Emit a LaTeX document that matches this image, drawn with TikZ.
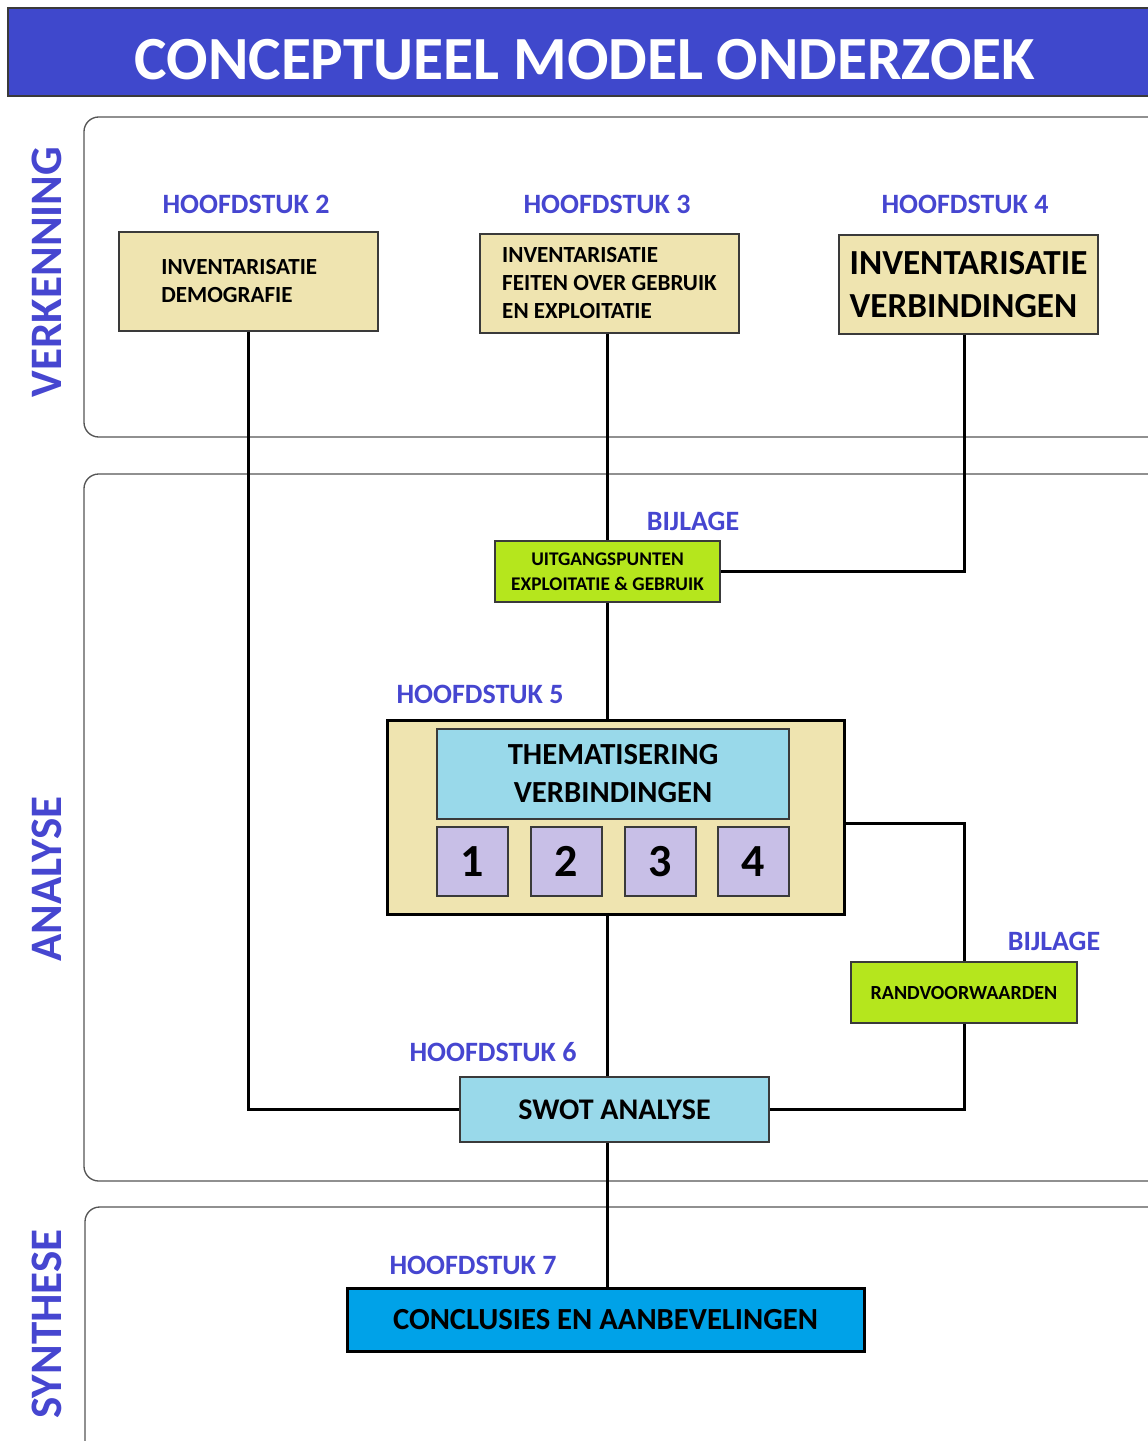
\documentclass[tikz,border=0pt]{standalone}
\usepackage{fontspec}
\setmainfont{Carlito}
\usetikzlibrary{calc}
\definecolor{titlebg}{HTML}{3F48CC}
\definecolor{hblue}{HTML}{4646D0}
\definecolor{tanc}{HTML}{EFE4B0}
\definecolor{limec}{HTML}{B5E61D}
\definecolor{lbluec}{HTML}{99D9EA}
\definecolor{lavc}{HTML}{C8BFE7}
\definecolor{cyanc}{HTML}{00A2E8}
\definecolor{secgray}{HTML}{555555}
\definecolor{boxborder}{HTML}{3A3A3A}
\def\u{0.75pt}
\tikzset{
  section/.style={draw=secgray, line width=1pt, rounded corners=11pt},
  thinbox/.style={draw=boxborder, line width=0.8pt, inner sep=0pt, align=center, text=black},
  thickbox/.style={draw=black, line width=2.25pt, inner sep=0pt, align=center, text=black},
  conn/.style={draw=black, line width=2.25pt},
  hlabel/.style={text=hblue, font=\fontsize{21}{25}\selectfont\bfseries, anchor=base, inner sep=0pt},
  sidelabel/.style={text=hblue, font=\fontsize{33.75}{40}\selectfont\bfseries, rotate=90, inner sep=0pt},
  numbox/.style={thinbox, fill=lavc, minimum width=71*\u, minimum height=69*\u, font=\fontsize{34.5}{40}\selectfont\bfseries}
}
\begin{document}
\begin{tikzpicture}[x=0.75pt,y=-0.75pt]
\useasboundingbox (0,0) rectangle (1148,1441);
\clip (0,0) rectangle (1148,1441);

% title bar
\path[draw=boxborder, line width=0.8pt, fill=titlebg] (8,8) rectangle (1170,96);
\node[text=white, font=\fontsize{46}{50}\selectfont\bfseries, anchor=base, inner sep=0pt] (title) at (585,80) {CONCEPTUEEL MODEL ONDERZOEK};

% sections
\draw[section] (84,117) rectangle (1175,437);
\draw[section] (84,474) rectangle (1175,1181);
\draw[section] (85,1207) rectangle (1175,1470);

% side labels
\node[sidelabel] (verk) at (47,272) {VERKENNING};
\node[sidelabel] (anal) at (47,879) {ANALYSE};
\node[sidelabel] (synth) at (47,1324) {SYNTHESE};

% chapter labels
\node[hlabel] (h2) at (246,213) {HOOFDSTUK 2};
\node[hlabel] (h3) at (607,213) {HOOFDSTUK 3};
\node[hlabel] (h4) at (965,214) {HOOFDSTUK 4};
\node[hlabel] (bij1) at (693,530) {BIJLAGE};
\node[hlabel] (h5l) at (480,703) {HOOFDSTUK 5};
\node[hlabel] (bij2) at (1054,950) {BIJLAGE};
\node[hlabel] (h6l) at (493,1061) {HOOFDSTUK 6};
\node[hlabel] (h7l) at (473,1274) {HOOFDSTUK 7};

% boxes
\node[thinbox, fill=tanc, minimum width=259*\u, minimum height=99*\u, align=left,
      font=\fontsize{17.3}{21}\selectfont\bfseries] (b2) at (248.5,281.5)
      {INVENTARISATIE\\DEMOGRAFIE\phantom{IIIIIII}};
\node[thinbox, fill=tanc, minimum width=259*\u, minimum height=99*\u, align=left,
      font=\fontsize{17.3}{21}\selectfont\bfseries] (b3) at (609.5,283.5)
      {INVENTARISATIE\\FEITEN OVER GEBRUIK\\EN EXPLOITATIE};
\node[thinbox, fill=tanc, minimum width=259*\u, minimum height=99*\u, align=left,
      font=\fontsize{26.4}{32.25}\selectfont\bfseries] (b4) at (968.5,284.5)
      {INVENTARISATIE\\VERBINDINGEN};

\node[thinbox, fill=limec, minimum width=225*\u, minimum height=61*\u,
      font=\fontsize{14.5}{18.75}\selectfont\bfseries] (uitg) at (607.5,571.5)
      {UITGANGSPUNTEN\\EXPLOITATIE \& GEBRUIK};

\node[thickbox, fill=tanc, minimum width=457*\u, minimum height=194*\u] (h5) at (615.5,817) {};
\node[thinbox, fill=lbluec, minimum width=352*\u, minimum height=90*\u,
      font=\fontsize{23}{28.5}\selectfont\bfseries] (them) at (613,774)
      {THEMATISERING\\VERBINDINGEN};
\node[numbox] (n1) at (472.5,861.5) {1};
\node[numbox] (n2) at (566.5,861.5) {2};
\node[numbox] (n3) at (660.5,861.5) {3};
\node[numbox] (n4) at (753.5,861.5) {4};

\node[thinbox, fill=limec, minimum width=226*\u, minimum height=61*\u,
      font=\fontsize{15}{18}\selectfont\bfseries] (rand) at (964,992.5) {RANDVOORWAARDEN};

\node[thinbox, fill=lbluec, minimum width=309*\u, minimum height=65*\u,
      font=\fontsize{22.5}{26}\selectfont\bfseries] (swot) at (614.5,1109.5) {SWOT ANALYSE};

\node[thickbox, fill=cyanc, minimum width=517*\u, minimum height=63*\u,
      font=\fontsize{23}{27}\selectfont\bfseries] (concl) at (605.5,1319.5) {CONCLUSIES EN AANBEVELINGEN};

% connectors
\draw[conn] (b2.south) |- (swot.west);
\draw[conn] (b3.south -| uitg.north) -- (uitg.north);
\draw[conn] (rand.north |- b4.south) |- (uitg.east);
\draw[conn] (uitg.south) -- (uitg.south |- h5.north);
\draw[conn] ($(h5.east)+(0,6)$) -| (rand.north);
\draw[conn] (rand.south) |- (swot.east);
\draw[conn] (uitg.south |- h5.south) -- (uitg.south |- swot.north);
\draw[conn] (uitg.south |- swot.south) -- (uitg.south |- concl.north);
\end{tikzpicture}
\end{document}
